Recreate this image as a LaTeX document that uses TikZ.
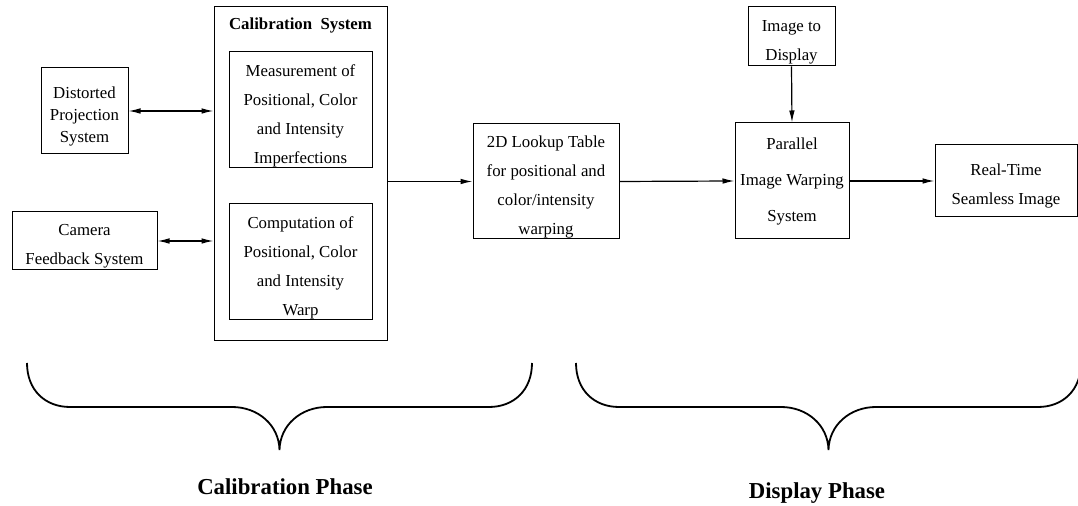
\documentclass[tikz,border=0pt]{standalone}
\usepackage{fontspec}
\setmainfont{Liberation Serif}
\usetikzlibrary{arrows.meta}
\newcommand{\topgap}{\rule{0pt}{11.3pt}}
\tikzset{
  blk/.style   = {draw, align=center, inner sep=0pt, line width=0.5pt,
                  font=\fontsize{8.4}{14.5}\selectfont},
  grp/.style   = {draw, inner sep=0pt, line width=0.5pt},
  ttl/.style   = {font=\fontsize{8.4}{10}\selectfont\bfseries},
  phase/.style = {font=\fontsize{11.4}{13}\selectfont\bfseries},
  brc/.style   = {line width=0.9pt},
  fl/.style    = {-{Latex[length=6pt,width=2.8pt]}, line width=0.6pt},
  dfl/.style   = {{Latex[length=6pt,width=2.8pt]}-{Latex[length=6pt,width=2.8pt]},
                  line width=0.6pt},
}
\begin{document}
\begin{tikzpicture}[x=0.5pt, y=-0.5pt]
  \useasboundingbox (0,0) rectangle (1078,506);
  % calibration side
  \node[blk, minimum width=43.5pt, minimum height=43pt,
        font=\fontsize{8.4}{10.8}\selectfont] (dist) at (84.5,111) {\topgap Distorted\\Projection\\System};
  \node[blk, minimum width=72.5pt, minimum height=29pt] (cam) at (84.5,241) {\topgap Camera\\Feedback System};
  \node[grp, minimum width=86.5pt, minimum height=167pt] (cal) at (300.5,174) {};
  \node[ttl] (caltitle) at (300.5,25) {Calibration~ System};
  \node[blk, minimum width=71.5pt, minimum height=58pt] (meas) at (300.5,110)
       {\topgap Measurement of\\Positional, Color\\and Intensity\\Imperfections};
  \node[blk, minimum width=71.5pt, minimum height=58pt] (comp) at (300.5,262)
       {\topgap Computation of\\Positional, Color\\and Intensity\\Warp};
  \node[blk, minimum width=73pt, minimum height=57.5pt] (lut) at (546,181.5)
       {\topgap 2D Lookup Table\\for positional and\\color/intensity\\warping};
  % display side
  \node[blk, minimum width=43.5pt, minimum height=29.5pt] (img) at (791.5,36.5) {\topgap Image to\\Display};
  \node[blk, minimum width=57pt, minimum height=58pt,
        font=\fontsize{8.4}{18}\selectfont] (par) at (792,181) {Parallel\\Image Warping\\System};
  \node[blk, minimum width=71pt, minimum height=36pt] (rt) at (1006,181) {\topgap Real-Time\\Seamless Image};
  % connectors
  \draw[dfl] (dist.east) -- (dist.east -| cal.west);
  \draw[dfl] (cam.east) -- (cam.east -| cal.west);
  \draw[fl] (lut.west -| cal.east) -- (lut.west);
  \draw[fl] (lut.east) -- (par.west);
  \draw[fl] (img.south) -- (par.north);
  \draw[fl] (par.east) -- (rt.west);
  % braces
  \foreach \bx in {0,549}{
    \draw[brc, xshift=\bx*0.5pt] (27,363) .. controls (27,390) and (45,407) .. (70,407)
      -- (232,407) .. controls (258,407) and (279,425) .. (279.5,450)
      .. controls (280,425) and (301,407) .. (327,407)
      -- (489,407) .. controls (514,407) and (532,390) .. (532,363);
  }
  \node[phase] (calph) at (285,487) {Calibration Phase};
  \node[phase] (disph) at (817,493) {Display Phase};
\end{tikzpicture}
\end{document}
